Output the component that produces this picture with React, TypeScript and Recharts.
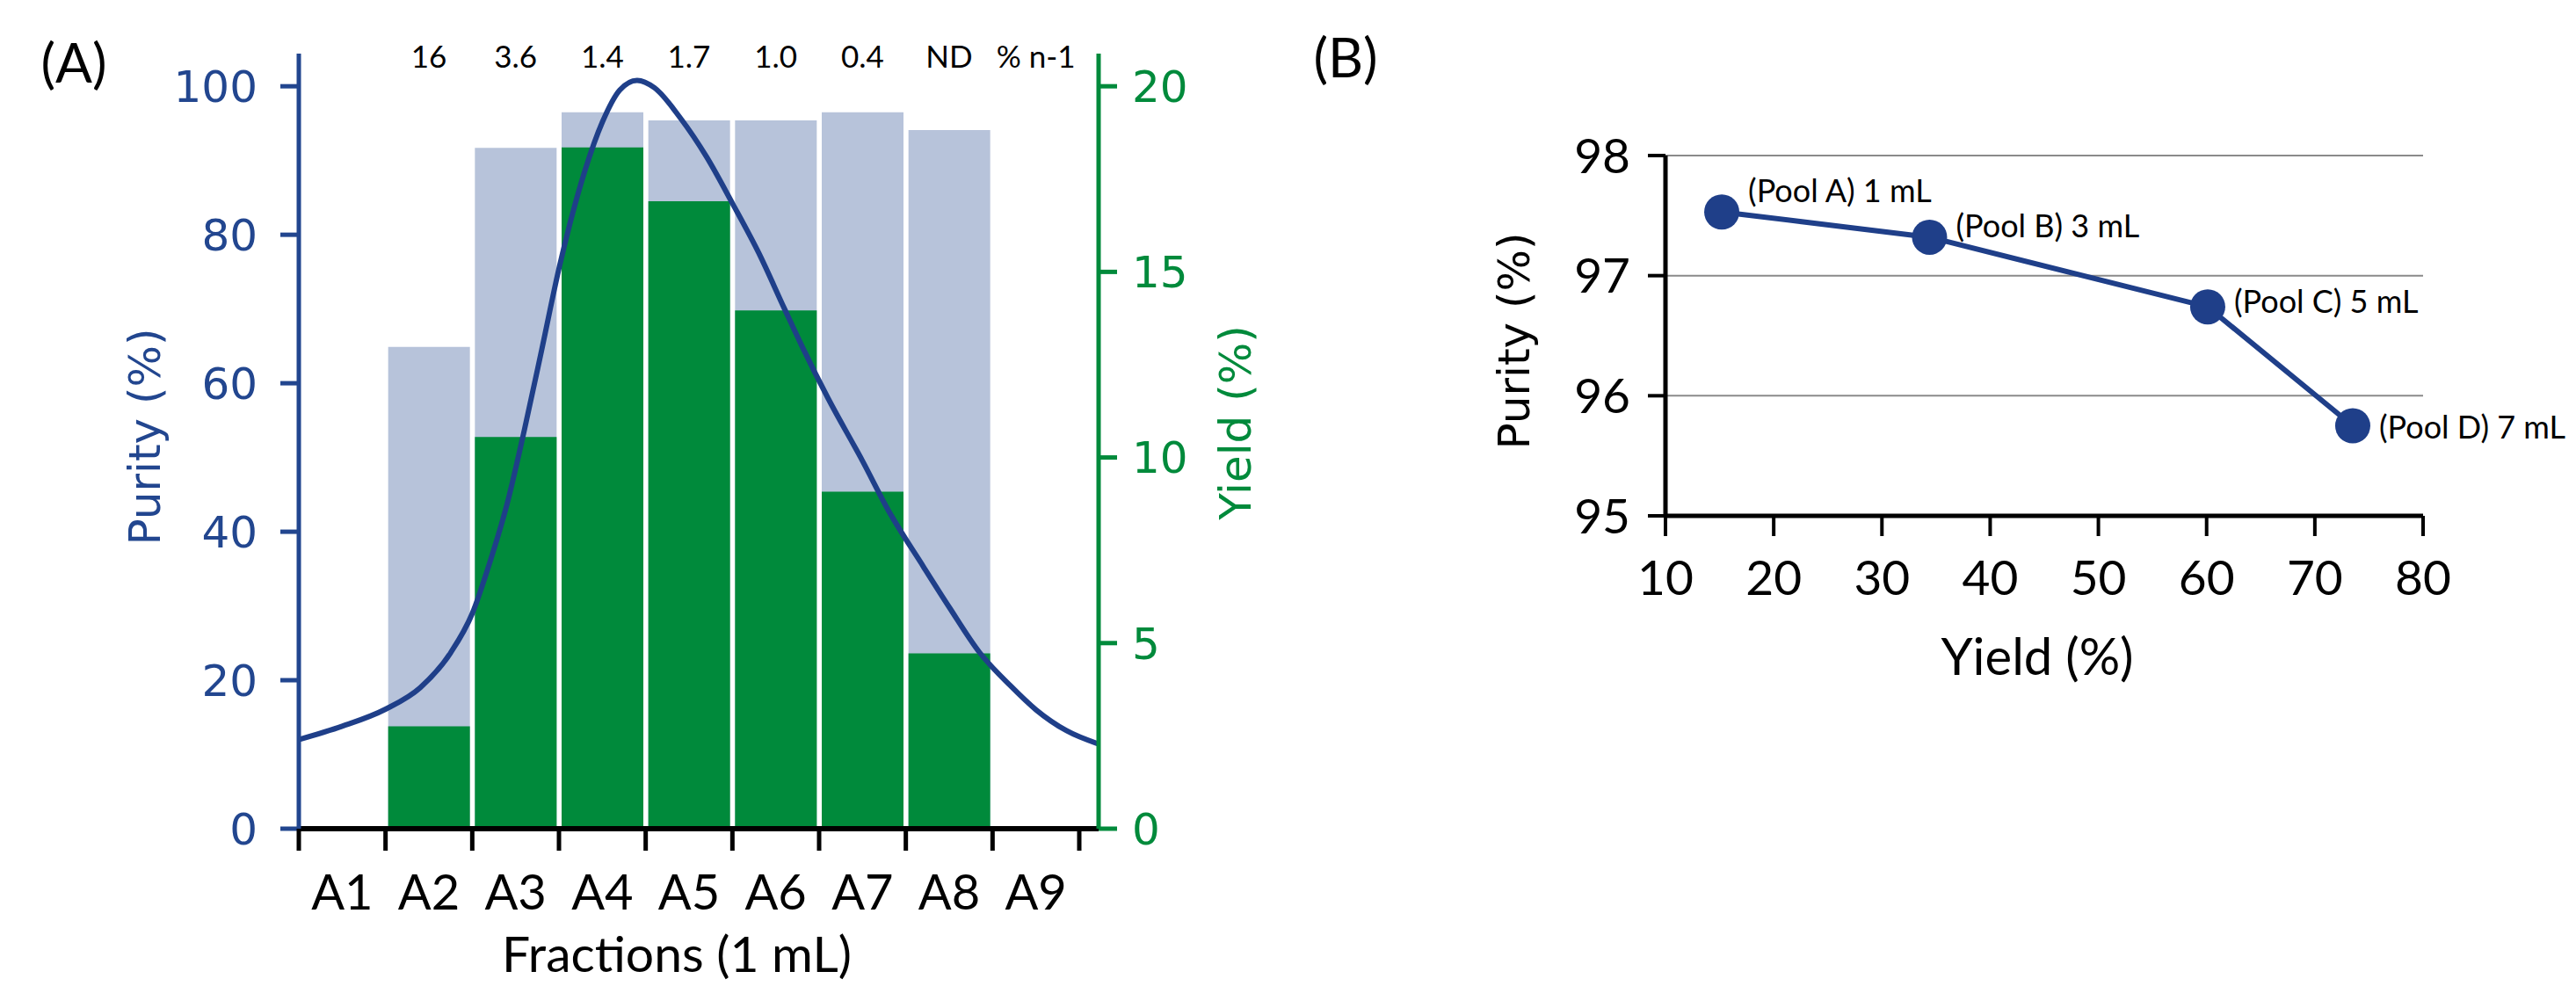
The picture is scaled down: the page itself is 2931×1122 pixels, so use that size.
import React from 'react';
import {
  ComposedChart,
  LineChart,
  Bar,
  Line,
  XAxis,
  YAxis,
  CartesianGrid,
  LabelList
} from 'recharts';

// ---- panel A: fractions ----
const fractions = ['A1', 'A2', 'A3', 'A4', 'A5', 'A6', 'A7', 'A8', 'A9'];
const fractionPurity = [null, 64.9, 91.7, 96.5, 95.4, 95.4, 96.5, 94.1, null];
const fractionYield = [null, 2.76, 10.55, 18.35, 16.9, 13.96, 9.08, 4.72, null];
const hmwPercent = ['', '16', '3.6', '1.4', '1.7', '1.0', '0.4', 'ND', '% n-1'];

// purity trace, x in fraction widths from the start of A1
const traceX = [0, 0.5, 1.0, 1.4, 1.75, 2.0, 2.2, 2.4, 2.6, 2.8, 3.0, 3.15, 3.3, 3.5, 3.7, 3.9, 4.1, 4.4, 4.7, 5.0, 5.3, 5.6, 5.8, 6.1, 6.5, 6.8, 7.2, 7.5, 7.85, 8.2, 8.5, 8.85, 9.22];
const traceY = [12.0, 13.8, 16.1, 19.0, 23.7, 29.0, 35.8, 43.7, 53.7, 64.5, 75.5, 82.6, 88.7, 95.2, 99.5, 100.8, 99.8, 95.7, 90.5, 84.2, 77.6, 70.0, 65.0, 58.0, 49.5, 42.8, 35.3, 29.8, 23.7, 19.3, 16.0, 13.2, 11.4];

// ---- panel B: pools ----
const poolYield = [15.2, 34.4, 60.1, 73.5];
const poolPurity = [97.53, 97.32, 96.74, 95.75];
const poolNames = ['(Pool A) 1 mL', '(Pool B) 3 mL', '(Pool C) 5 mL', '(Pool D) 7 mL'];

const fractionData = fractions.map((name, i) => ({
  name,
  purity: fractionPurity[i],
  yield: fractionYield[i]
}));
const traceData = traceX.map((x, i) => ({ x, purity: traceY[i] }));
const poolData = poolYield.map((y, i) => ({ yield: y, purity: poolPurity[i], name: poolNames[i] }));

const SANS = 'Lato, "Open Sans", sans-serif';
const WIDE = '"DejaVu Sans", Verdana, sans-serif';
const BLUE = '#22468f';
const NAVY = '#1f3f89';
const GREEN = '#008a3b';
const LIGHT = '#b7c3da';

// panel A geometry
const A_LEFT = 340;
const A_AXIS_Y = 943;
const A_BAND_END = 1228;
const BAND = (A_BAND_END - A_LEFT) / fractions.length;

const Caption = ({ x, y, text, size, color = '#000', family = SANS, rotate = 0 }: any) => (
  <text
    x={x}
    y={y}
    textAnchor="middle"
    dominantBaseline="central"
    fontSize={size}
    fill={color}
    fontFamily={family}
    transform={rotate ? `rotate(${rotate} ${x} ${y})` : undefined}
  >
    {text}
  </text>
);

const FractionTick = (props: any) => {
  const { x, index, payload } = props;
  const last = index === fractions.length - 1;
  return (
    <g>
      <line x1={x - BAND / 2} x2={x - BAND / 2} y1={A_AXIS_Y} y2={A_AXIS_Y + 25} stroke="#000" strokeWidth={5} />
      {last && (
        <line x1={x + BAND / 2} x2={x + BAND / 2} y1={A_AXIS_Y} y2={A_AXIS_Y + 25} stroke="#000" strokeWidth={5} />
      )}
      <text x={x} y={1013} textAnchor="middle" dominantBaseline="central" fontSize={56} fontFamily={SANS} fill="#000">
        {payload.value}
      </text>
    </g>
  );
};

const HmwTick = (props: any) => (
  <text x={props.x} y={63} textAnchor="middle" dominantBaseline="central" fontSize={35} fontFamily={SANS} fill="#000">
    {hmwPercent[props.index]}
  </text>
);

const PanelA = () => (
  <ComposedChart
    width={1450}
    height={1122}
    data={fractionData}
    margin={{ top: 0, right: 0, bottom: 0, left: 0 }}
    barCategoryGap={3}
  >
    <XAxis
      xAxisId="top"
      orientation="top"
      dataKey="name"
      height={61}
      axisLine={false}
      tickLine={false}
      interval={0}
      padding={{ left: 0, right: 22 }}
      tick={HmwTick}
    />
    <XAxis
      xAxisId="main"
      dataKey="name"
      height={179}
      interval={0}
      padding={{ left: 0, right: 22 }}
      axisLine={{ stroke: '#000', strokeWidth: 6 }}
      tickLine={false}
      tick={FractionTick}
      label={() => <Caption x={770} y={1084} text="Fractions (1 mL)" size={57} />}
    />
    <XAxis xAxisId="back" dataKey="name" hide height={0} padding={{ left: 0, right: 22 }} />
    <XAxis xAxisId="curve" type="number" dataKey="x" domain={[0, 9.22]} allowDataOverflow hide height={0} />
    <YAxis
      yAxisId="left"
      width={340}
      domain={[0, 104.4]}
      ticks={[0, 20, 40, 60, 80, 100]}
      allowDataOverflow
      axisLine={{ stroke: BLUE, strokeWidth: 5 }}
      tickLine={{ stroke: BLUE, strokeWidth: 5 }}
      tickSize={21}
      tickMargin={26}
      tick={{ fill: BLUE, fontSize: 50, fontFamily: WIDE }}
      label={() => (
        <g>
          <Caption x={84} y={70} text="(A)" size={62} />
          <Caption x={165} y={497} text="Purity (%)" size={50} color={BLUE} family={WIDE} rotate={-90} />
        </g>
      )}
    />
    <YAxis
      yAxisId="right"
      orientation="right"
      width={200}
      domain={[0, 20.88]}
      ticks={[0, 5, 10, 15, 20]}
      allowDataOverflow
      axisLine={{ stroke: GREEN, strokeWidth: 5 }}
      tickLine={{ stroke: GREEN, strokeWidth: 5 }}
      tickSize={21}
      tickMargin={17}
      tick={{ fill: GREEN, fontSize: 50, fontFamily: WIDE }}
      label={() => <Caption x={1406} y={481} text="Yield (%)" size={50} color={GREEN} family={WIDE} rotate={-90} />}
    />
    <Bar xAxisId="back" yAxisId="left" dataKey="purity" fill={LIGHT} isAnimationActive={false} />
    <Bar xAxisId="main" yAxisId="right" dataKey="yield" fill={GREEN} isAnimationActive={false} />
    <Line
      data={traceData}
      xAxisId="curve"
      yAxisId="left"
      dataKey="purity"
      type="monotone"
      stroke={NAVY}
      strokeWidth={6}
      dot={false}
      isAnimationActive={false}
    />
  </ComposedChart>
);

// label nudges for the pool names (dy from the point centre)
const POOL_DY = [-25, -14, -7, 0];

const PoolLabel = (props: any) => {
  const { x, y, index, value } = props;
  return (
    <text x={x + 30} y={y + POOL_DY[index]} dominantBaseline="central" fontSize={36} fontFamily={SANS} fill="#000">
      {value}
    </text>
  );
};

const PanelB = () => (
  <LineChart width={1481} height={1122} data={poolData} margin={{ top: 177, right: 174, bottom: 415, left: 0 }}>
    <CartesianGrid vertical={false} stroke="#8a8a8a" strokeWidth={2} />
    <XAxis
      type="number"
      dataKey="yield"
      domain={[10, 80]}
      ticks={[10, 20, 30, 40, 50, 60, 70, 80]}
      height={120}
      axisLine={{ stroke: '#000', strokeWidth: 5 }}
      tickLine={{ stroke: '#000', strokeWidth: 4 }}
      tickSize={23}
      tickMargin={28}
      tick={{ fill: '#000', fontSize: 55, fontFamily: SANS }}
      label={() => (
        <g>
          <Caption x={868} y={745} text="Yield (%)" size={58} />
          <Caption x={81} y={64} text="(B)" size={62} />
        </g>
      )}
    />
    <YAxis
      domain={[95, 98]}
      ticks={[95, 96, 97, 98]}
      width={445}
      axisLine={{ stroke: '#000', strokeWidth: 5 }}
      tickLine={{ stroke: '#000', strokeWidth: 4 }}
      tickSize={20}
      tickMargin={20}
      tick={{ fill: '#000', fontSize: 55, fontFamily: SANS }}
      label={() => <Caption x={273} y={388} text="Purity (%)" size={50} family={WIDE} rotate={-90} />}
    />
    <Line
      dataKey="purity"
      stroke={NAVY}
      strokeWidth={6}
      dot={{ r: 20, fill: NAVY, stroke: NAVY, strokeWidth: 0 }}
      isAnimationActive={false}
    >
      <LabelList dataKey="name" content={PoolLabel} />
    </Line>
  </LineChart>
);

export default function App() {
  return (
    <div style={{ position: 'absolute', left: 0, top: 0, width: 2931, height: 1122, background: '#fff', fontFamily: SANS }}>
      <div style={{ position: 'absolute', left: 0, top: 0 }}>
        <PanelA />
      </div>
      <div style={{ position: 'absolute', left: 1450, top: 0 }}>
        <PanelB />
      </div>
    </div>
  );
}
